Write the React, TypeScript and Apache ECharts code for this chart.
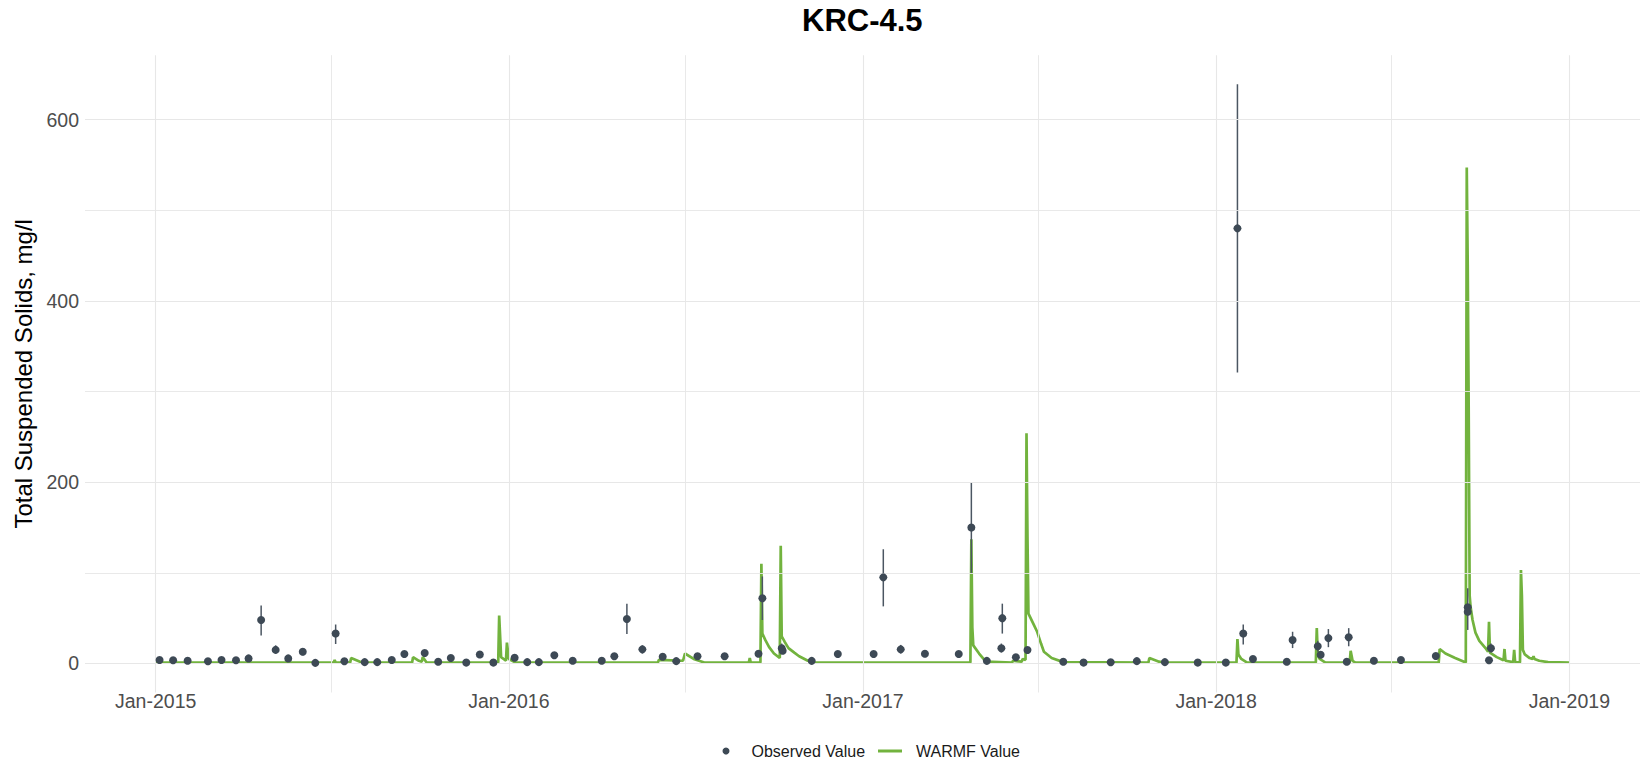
import React, { useEffect, useRef } from "react";
import * as echarts from "echarts";

// ---- data ----
const obsDates = [
  "2015-01-05", "2015-01-19", "2015-02-03", "2015-02-24", "2015-03-10", "2015-03-25", "2015-04-07", "2015-04-20",
  "2015-05-05", "2015-05-18", "2015-06-02", "2015-06-15", "2015-07-06", "2015-07-15", "2015-08-05", "2015-08-18",
  "2015-09-02", "2015-09-15", "2015-10-06", "2015-10-20", "2015-11-02", "2015-11-18", "2015-12-02", "2015-12-16",
  "2016-01-07", "2016-01-20", "2016-02-01", "2016-02-17", "2016-03-07", "2016-04-06", "2016-04-19", "2016-05-02",
  "2016-05-18", "2016-06-08", "2016-06-22", "2016-07-14", "2016-08-11", "2016-09-15", "2016-09-19", "2016-10-09",
  "2016-10-10", "2016-11-09", "2016-12-06", "2017-01-12", "2017-01-22", "2017-02-09", "2017-03-06", "2017-04-10",
  "2017-04-23", "2017-05-09", "2017-05-25", "2017-05-24", "2017-06-08", "2017-06-20", "2017-07-27", "2017-08-17",
  "2017-09-14", "2017-10-11", "2017-11-09", "2017-12-13", "2018-01-11", "2018-01-23", "2018-01-29", "2018-02-08",
  "2018-03-15", "2018-03-21", "2018-04-16", "2018-04-19", "2018-04-27", "2018-05-16", "2018-05-18", "2018-06-13",
  "2018-07-11", "2018-08-16", "2018-09-18", "2018-09-18", "2018-10-10", "2018-10-12",
];
const obsValues = [
  3.9, 3.5, 3, 2.5, 3.9, 3.5, 5.6, 48,
  15, 5.6, 13, 0.7, 33, 2.5, 1.5, 1.5,
  3.9, 10.5, 11.6, 1.9, 6, 1, 10, 1,
  6.4, 1.5, 1.5, 9, 3, 3, 8, 49,
  15.6, 7.5, 2.6, 8, 8, 10.8, 72, 16.8,
  14, 2.9, 10.5, 10.5, 95, 15.6, 10.8, 10.4,
  150, 2.9, 50, 16.8, 6.8, 14.9, 2, 1,
  1.3, 2.6, 1.5, 1, 1, 480, 33, 5,
  2, 26, 19, 9.7, 28, 2, 29, 3,
  3.9, 8.3, 62, 57, 3.5, 16.8,
];

// error bars (visible ones)
const errDates = [
  "2015-04-20", "2015-05-05", "2015-06-02", "2015-07-06", "2016-05-02", "2016-05-18", "2016-09-19", "2016-10-09",
  "2017-01-22", "2017-02-09", "2017-04-23", "2017-05-25", "2017-05-24", "2018-01-23", "2018-01-29", "2018-03-21",
  "2018-04-16", "2018-04-27", "2018-05-18", "2018-09-18", "2018-10-12",
];
const errLow = [31, 11, 9, 21.5, 32.5, 11, 48, 12, 63, 11, 100, 33, 12, 321, 21, 17, 13, 18, 19, 37, 12];
const errHigh = [64, 20, 17, 43, 66, 20, 96, 22, 126, 20.5, 200, 66, 22, 639, 43, 35, 25, 38, 39, 83, 22];

const warmfDates = [
  "2015-01-01", "2015-07-04", "2015-07-05", "2015-07-06", "2015-07-21", "2015-07-22", "2015-08-02", "2015-09-23",
  "2015-09-24", "2015-09-30", "2015-10-03", "2015-10-04", "2015-10-08", "2015-12-21", "2015-12-22", "2015-12-24",
  "2015-12-29", "2015-12-30", "2016-01-01", "2016-01-08", "2016-06-03", "2016-06-04", "2016-06-29", "2016-07-01",
  "2016-07-10", "2016-07-21", "2016-09-05", "2016-09-06", "2016-09-07", "2016-09-17", "2016-09-18", "2016-09-19",
  "2016-09-22", "2016-09-26", "2016-10-01", "2016-10-07", "2016-10-08", "2016-10-09", "2016-10-12", "2016-10-16",
  "2016-10-22", "2016-10-27", "2016-11-05", "2016-11-13", "2017-04-22", "2017-04-23", "2017-04-24", "2017-04-25",
  "2017-05-01", "2017-05-08", "2017-06-04", "2017-06-05", "2017-06-14", "2017-06-15", "2017-06-18", "2017-06-19",
  "2017-06-20", "2017-06-21", "2017-06-26", "2017-06-30", "2017-07-04", "2017-07-07", "2017-07-15", "2017-07-27",
  "2017-10-23", "2017-10-24", "2017-11-03", "2017-11-08", "2018-01-22", "2018-01-23", "2018-01-24", "2018-01-27",
  "2018-02-02", "2018-04-14", "2018-04-15", "2018-04-16", "2018-04-18", "2018-04-24", "2018-05-19", "2018-05-20",
  "2018-05-22", "2018-05-25", "2018-08-19", "2018-08-20", "2018-08-26", "2018-09-05", "2018-09-16", "2018-09-17",
  "2018-09-18", "2018-09-19", "2018-09-20", "2018-09-21", "2018-09-23", "2018-09-26", "2018-09-30", "2018-10-07",
  "2018-10-09", "2018-10-10", "2018-10-11", "2018-10-18", "2018-10-25", "2018-10-26", "2018-10-27", "2018-11-04",
  "2018-11-05", "2018-11-06", "2018-11-11", "2018-11-12", "2018-11-13", "2018-11-14", "2018-11-16", "2018-11-21",
  "2018-11-24", "2018-11-25", "2018-11-26", "2018-12-01", "2018-12-10", "2019-01-01",
];
const warmfValues = [
  1, 1, 4, 1, 1, 6, 1, 1,
  7, 3, 2, 7, 1, 1, 53, 7,
  3, 23, 5, 1, 1, 4, 3, 11,
  5, 1, 1, 6, 1, 1, 110, 33,
  26, 18, 11, 6, 130, 30, 24, 17,
  12, 8, 3, 1, 1, 137, 40, 20,
  11, 2, 1, 3, 2, 5, 4, 254,
  140, 55, 44, 35, 22, 13, 6, 1.5,
  1, 6, 2, 1, 1, 27, 10, 5,
  1, 1, 39, 10, 5, 1, 1, 14,
  3, 1, 1, 16, 11, 6, 1, 547,
  440, 280, 75, 62, 48, 34, 25, 16,
  13, 46, 12, 7, 3.5, 16, 3, 1.5,
  15, 1.5, 1, 103, 74, 15, 10, 6,
  5, 8, 5, 3, 1.5, 1,
];

const xMajorTicks = ["2015-01-01", "2016-01-01", "2017-01-01", "2018-01-01", "2019-01-01"];
const xMinorTicks = ["2015-07-01", "2016-07-01", "2017-07-01", "2018-07-01"];
const yMajorTicks = [0, 200, 400, 600];
const yMinorTicks = [100, 300, 500];

const ts = (s: string) => Date.parse(s + "T00:00:00Z");

const FONT = "'Liberation Sans', Arial, sans-serif";
const OBS_COLOR = "#3d4955";
const LINE_COLOR = "#72b33e";
const GRID_COLOR = "#e7e7e7";

export default function App() {
  const ref = useRef<HTMLDivElement>(null);

  useEffect(() => {
    document.body.style.margin = "0";
    const chart = echarts.init(ref.current!, null, { renderer: "svg" });

    const xStart = ts("2015-01-01");
    const xEnd = ts("2019-01-01");
    const pad = (xEnd - xStart) * 0.05;

    const gridLineStyle = { color: GRID_COLOR, width: 1, type: "solid" as const };

    chart.setOption({
      animation: false,
      backgroundColor: "#ffffff",
      textStyle: { fontFamily: FONT },
      title: {
        text: "KRC-4.5",
        left: 802,
        top: 5,
        padding: 0,
        textStyle: { fontFamily: FONT, fontSize: 31, fontWeight: "bold", color: "#000000" },
      },
      grid: { left: 85, right: 2, top: 55.2, bottom: 74.5, containLabel: false },
      xAxis: {
        type: "value",
        min: xStart - pad,
        max: xEnd + pad,
        axisLine: { show: false },
        axisTick: { show: false },
        splitLine: { show: false },
        axisLabel: {
          customValues: xMajorTicks.map(ts),
          formatter: (v: number) => "Jan-" + new Date(v).getUTCFullYear(),
          fontFamily: FONT,
          fontSize: 19.5,
          color: "#4d4d4d",
          margin: -2,
          hideOverlap: false,
        },
      },
      yAxis: {
        type: "value",
        min: -32,
        max: 671,
        axisLine: { show: false },
        axisTick: { show: false },
        splitLine: { show: false },
        axisLabel: {
          customValues: yMajorTicks,
          fontFamily: FONT,
          fontSize: 19.5,
          color: "#4d4d4d",
          margin: 6,
        },
        name: "Total Suspended Solids, mg/l",
        nameLocation: "middle",
        nameRotate: 90,
        nameGap: 42,
        nameTextStyle: { fontFamily: FONT, fontSize: 24, color: "#000000" },
      },
      legend: [
        {
          data: [{ name: "Observed Value", icon: "circle" }],
          left: 722.5,
          top: 743,
          padding: 0,
          itemWidth: 7,
          itemHeight: 7,
          selectedMode: false,
          textStyle: { fontFamily: FONT, fontSize: 16, color: "#1a1a1a", padding: [0, 0, 0, 17] },
        },
        {
          data: [{ name: "WARMF Value", icon: "rect" }],
          left: 878,
          top: 743,
          padding: 0,
          itemWidth: 24,
          itemHeight: 3,
          selectedMode: false,
          textStyle: { fontFamily: FONT, fontSize: 16, color: "#1a1a1a", padding: [0, 0, 0, 9] },
        },
      ],
      series: [
        {
          name: "grid",
          type: "line",
          data: [],
          z: 0,
          silent: true,
          markLine: {
            silent: true,
            symbol: ["none", "none"],
            label: { show: false },
            emphasis: { disabled: true },
            lineStyle: gridLineStyle,
            data: [
              ...xMajorTicks.map((d) => ({ xAxis: ts(d), lineStyle: { ...gridLineStyle, width: 1.1 } })),
              ...xMinorTicks.map((d) => ({ xAxis: ts(d), lineStyle: { ...gridLineStyle, width: 0.9 } })),
              ...yMajorTicks.map((v) => ({ yAxis: v, lineStyle: { ...gridLineStyle, width: 1.1 } })),
              ...yMinorTicks.map((v) => ({ yAxis: v, lineStyle: { ...gridLineStyle, width: 0.9 } })),
            ],
          },
        },
        {
          name: "WARMF Value",
          type: "line",
          z: 3,
          symbol: "none",
          showSymbol: false,
          lineStyle: { color: LINE_COLOR, width: 2.7 },
          itemStyle: { color: LINE_COLOR },
          emphasis: { disabled: true },
          data: warmfDates.map((d, i) => [ts(d), warmfValues[i]]),
        },
        {
          name: "errorbars",
          type: "custom",
          z: 4,
          silent: true,
          encode: { x: 0, y: [1, 2] },
          data: errDates.map((d, i) => [ts(d), errLow[i], errHigh[i]]),
          renderItem: (params: any, api: any) => {
            const x = api.value(0);
            const lo = api.coord([x, api.value(1)]);
            const hi = api.coord([x, api.value(2)]);
            return {
              type: "line",
              shape: { x1: lo[0], y1: lo[1], x2: hi[0], y2: hi[1] },
              style: { stroke: "#4b5662", lineWidth: 1.5 },
            };
          },
        },
        {
          name: "Observed Value",
          type: "scatter",
          z: 5,
          symbol: "circle",
          symbolSize: 8,
          itemStyle: { color: OBS_COLOR, opacity: 1 },
          emphasis: { disabled: true },
          data: obsDates.map((d, i) => [ts(d), obsValues[i]]),
        },
      ],
    });

    return () => chart.dispose();
  }, []);

  return <div ref={ref} style={{ position: "fixed", left: 0, top: 0, width: 1642, height: 767 }} />;
}
